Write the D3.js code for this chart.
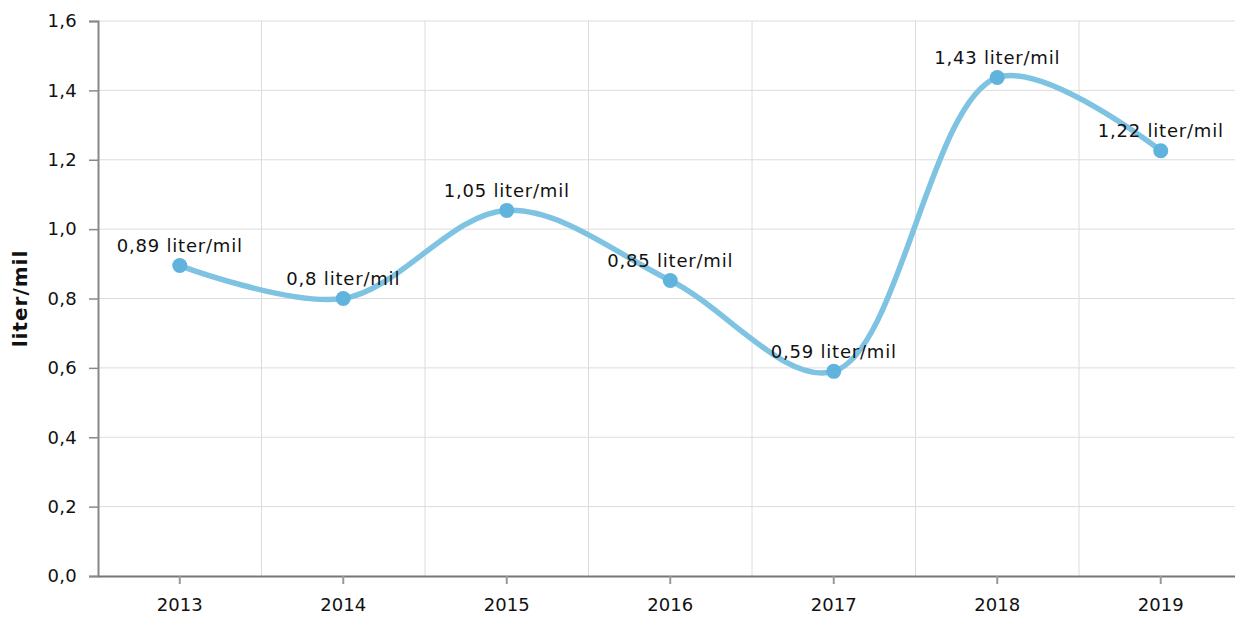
<!DOCTYPE html>
<html>
<head>
<meta charset="utf-8">
<script src="https://cdn.jsdelivr.net/npm/d3@7"></script>
<style>
  body { margin: 0; background: #fff; }
  svg { display: block; font-family: "DejaVu Sans", Verdana, sans-serif; }
</style>
</head>
<body>
<div id="chart"></div>
<script>
const years = ["2013", "2014", "2015", "2016", "2017", "2018", "2019"];
const values = [0.895, 0.8, 1.054, 0.852, 0.59, 1.437, 1.226];
const yTicks = [0, 0.2, 0.4, 0.6, 0.8, 1.0, 1.2, 1.4, 1.6];
const unit = "liter/mil";

const width = 1235, height = 620;
const margin = { left: 98, top: 21, bottom: 44 };
const plotRight = 1242.5;

const svg = d3.select("#chart").append("svg")
    .attr("width", width)
    .attr("height", height);

const x = d3.scaleBand()
    .domain(years)
    .range([margin.left, plotRight]);

const y = d3.scaleLinear()
    .domain([0, 1.6])
    .range([height - margin.bottom, margin.top]);

const fmt = v => d3.format(".1f")(v).replace(".", ",");
const fmtLabel = v => String(Math.floor(v * 100 + 1e-6) / 100).replace(".", ",");

// horizontal gridlines
svg.append("g")
  .selectAll("line")
  .data(yTicks.slice(1))
  .join("line")
    .attr("x1", margin.left)
    .attr("x2", plotRight)
    .attr("y1", d => y(d))
    .attr("y2", d => y(d))
    .attr("stroke", "#dcdcdc")
    .attr("stroke-width", 1);

// vertical gridlines at band boundaries
svg.append("g")
  .selectAll("line")
  .data(years.slice(1))
  .join("line")
    .attr("x1", d => x(d))
    .attr("x2", d => x(d))
    .attr("y1", y(0))
    .attr("y2", y(1.6))
    .attr("stroke", "#dcdcdc")
    .attr("stroke-width", 1);

// y axis
const yAxis = svg.append("g")
    .attr("transform", `translate(${margin.left},0)`)
    .call(d3.axisLeft(y).tickValues(yTicks).tickFormat(fmt).tickSize(9).tickPadding(12));
yAxis.select(".domain").attr("stroke", "#888").attr("stroke-width", 2);
yAxis.selectAll(".tick line").attr("stroke", "#888").attr("stroke-width", 1.5);
yAxis.selectAll("text").attr("font-size", 18).attr("fill", "#111")
    .attr("font-family", "DejaVu Sans, sans-serif").attr("letter-spacing", 0.3);

// x axis
const xAxis = svg.append("g")
    .attr("transform", `translate(0,${y(0)})`)
    .call(d3.axisBottom(x).tickSizeInner(8).tickSizeOuter(0).tickPadding(14));
xAxis.select(".domain").attr("stroke", "#777").attr("stroke-width", 2);
xAxis.selectAll(".tick line").attr("stroke", "#999").attr("stroke-width", 2);
xAxis.selectAll("text").attr("font-size", 18).attr("fill", "#111")
    .attr("font-family", "DejaVu Sans, sans-serif");

// y axis title
svg.append("text")
    .attr("transform", `translate(27,${(y(0) + y(1.6)) / 2}) rotate(-90)`)
    .attr("text-anchor", "middle")
    .attr("font-size", 20)
    .attr("font-weight", "bold")
    .attr("letter-spacing", 1)
    .attr("fill", "#111")
    .text(unit);

const pts = years.map((yr, i) => ({ yr, v: values[i] }));
const cx = d => x(d.yr) + x.bandwidth() / 2;

const line = d3.line()
    .x(cx)
    .y(d => y(d.v))
    .curve(d3.curveCatmullRom.alpha(0.5));

svg.append("path")
    .datum(pts)
    .attr("d", line)
    .attr("fill", "none")
    .attr("stroke", "#7fc3e2")
    .attr("stroke-width", 5.5)
    .attr("stroke-linecap", "round");

svg.append("g")
  .selectAll("circle")
  .data(pts)
  .join("circle")
    .attr("cx", cx)
    .attr("cy", d => y(d.v))
    .attr("r", 7.5)
    .attr("fill", "#5fb3dc");

svg.append("g")
  .selectAll("text")
  .data(pts)
  .join("text")
    .attr("x", cx)
    .attr("y", d => y(d.v) - 13.5)
    .attr("text-anchor", "middle")
    .attr("font-size", 18)
    .attr("letter-spacing", 0.8)
    .attr("fill", "#111")
    .text(d => `${fmtLabel(d.v)} ${unit}`);
</script>
</body>
</html>
